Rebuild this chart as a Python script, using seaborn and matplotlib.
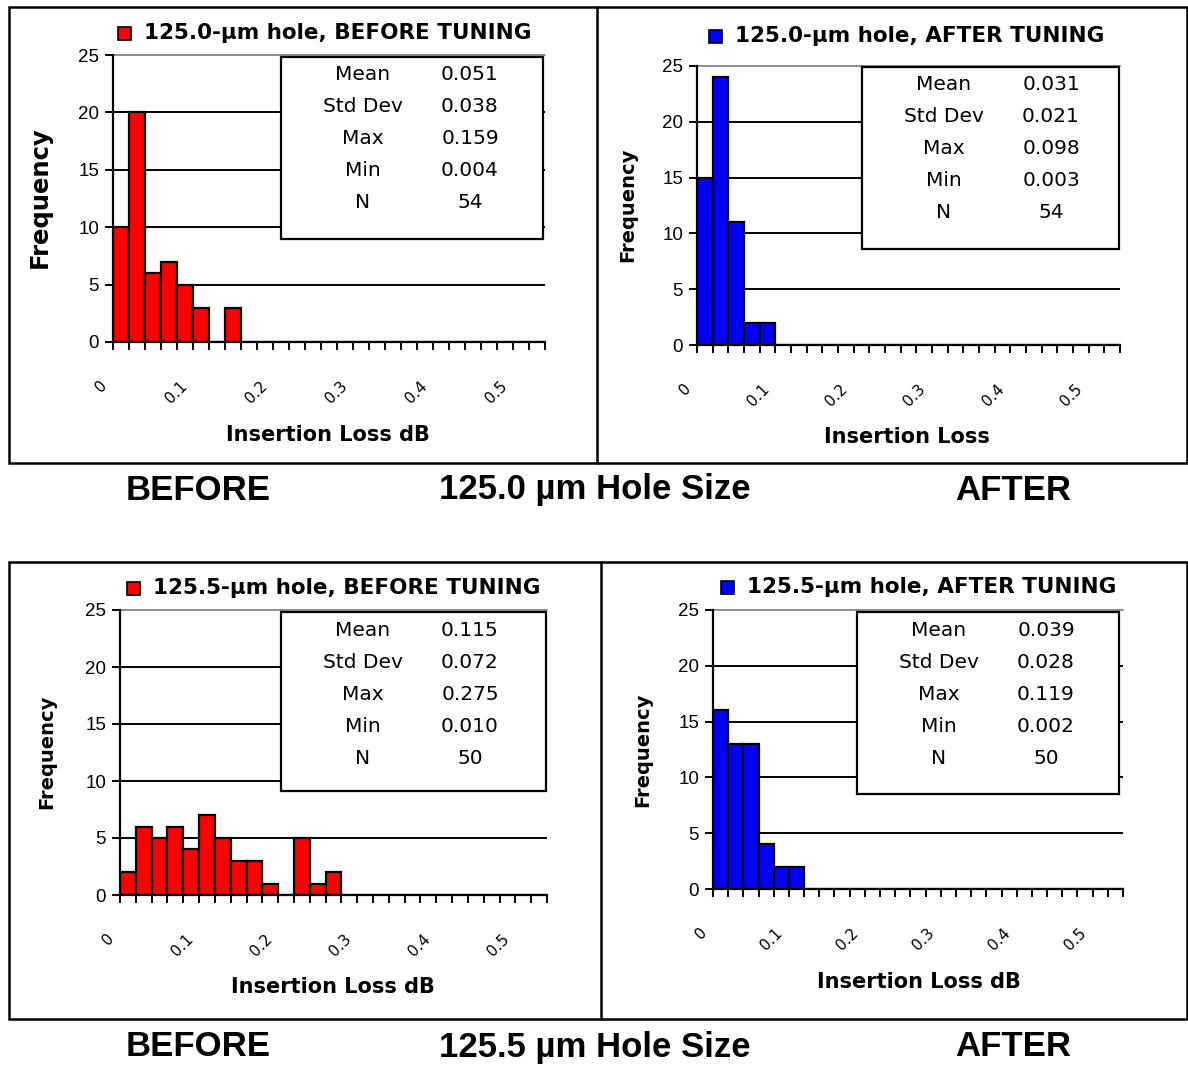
import numpy as np
import pandas as pd
import matplotlib
matplotlib.use("Agg")
import matplotlib.pyplot as plt
from matplotlib.patches import Rectangle
from matplotlib.transforms import ScaledTranslation
import seaborn as sns

# ---- data ----
N_BINS = 27
BIN_STEP = 0.02
TICK_LABELS = ["0", "0.1", "0.2", "0.3", "0.4", "0.5"]

before_1250 = [10, 20, 6, 7, 5, 3, 0, 3]
after_1250 = [15, 24, 11, 2, 2]
before_1255 = [2, 6, 5, 6, 4, 7, 5, 3, 3, 1, 0, 5, 1, 2]
after_1255 = [16, 13, 13, 4, 2, 2]

STAT_NAMES = ["Mean", "Std Dev", "Max", "Min", "N"]
stats_before_1250 = ["0.051", "0.038", "0.159", "0.004", "54"]
stats_after_1250 = ["0.031", "0.021", "0.098", "0.003", "54"]
stats_before_1255 = ["0.115", "0.072", "0.275", "0.010", "50"]
stats_after_1255 = ["0.039", "0.028", "0.119", "0.002", "50"]

titles = ["125.0-\u00b5m hole, BEFORE TUNING", "125.0-\u00b5m hole, AFTER TUNING",
          "125.5-\u00b5m hole, BEFORE TUNING", "125.5-\u00b5m hole, AFTER TUNING"]
xlabels = ["Insertion Loss dB", "Insertion Loss", "Insertion Loss dB", "Insertion Loss dB"]
row_titles = ["125.0 \u00b5m Hole Size", "125.5 \u00b5m Hole Size"]

RED = "#ff0000"
BLUE = "#0000ff"

sns.set_style("white")
plt.rcParams["font.family"] = ["DejaVu Sans"]
plt.rcParams["text.color"] = "black"
plt.rcParams["axes.labelcolor"] = "black"
plt.rcParams["xtick.color"] = "black"
plt.rcParams["ytick.color"] = "black"

W, H = 1188, 1065
fig = plt.figure(figsize=(W / 100, H / 100), dpi=100)


def fx(x):
    return x / W


def fy(y):
    return 1 - y / H


def px_rect(x0, y0, x1, y1):
    return [fx(x0), fy(y1), (x1 - x0) / W, (y1 - y0) / H]


def panel(counts, stats, color, title, xlabel, ax_px, box_px, title_px, ylab_px, ylab_size, xlab_px):
    ax = fig.add_axes(px_rect(*ax_px))
    full = list(counts) + [0] * (N_BINS - len(counts))
    df = pd.DataFrame({"bin": [f"{i * BIN_STEP:.2f}" for i in range(N_BINS)], "count": full})
    sns.barplot(data=df, x="bin", y="count", color=color, width=1, saturation=1,
                edgecolor="black", linewidth=1.6, errorbar=None, ax=ax, zorder=2)
    ax.set_xlim(-0.5, N_BINS - 0.5)
    ax.set_ylim(0, 25)
    for g in [5, 10, 15, 20]:
        ax.axhline(g, color="black", lw=1.4, zorder=0.5)
    ax.axhline(25, color="#8c8c8c", lw=1.4, zorder=0.5, clip_on=False)
    for s in ["top", "right"]:
        ax.spines[s].set_visible(False)
    for s in ["left", "bottom"]:
        ax.spines[s].set_color("black")
        ax.spines[s].set_linewidth(1.6)
    ax.set_yticks([0, 5, 10, 15, 20, 25])
    ax.set_yticklabels(["0", "5", "10", "15", "20", "25"], family="Liberation Sans", fontsize=13.5)
    ax.tick_params(axis="y", direction="out", length=6, width=1.4, color="black", pad=4, left=True)
    ax.set_xticks(range(0, N_BINS, 5))
    ax.set_xticklabels(TICK_LABELS, rotation=45, ha="right", va="top", fontsize=11)
    ax.set_xticks(np.arange(-0.5, N_BINS, 1), minor=True)
    ax.tick_params(axis="x", which="major", length=0, pad=26, bottom=True)
    ax.tick_params(axis="x", which="minor", direction="out", length=6, width=1.4, color="black", bottom=True)
    for lab in ax.get_xticklabels():
        lab.set_transform(lab.get_transform() + ScaledTranslation(-8 / 72, 0, fig.dpi_scale_trans))
    ax.set_xlabel("")
    ax.set_ylabel("")

    # stats box
    bx0, by0, bx1, by1 = box_px
    fig.add_artist(Rectangle((fx(bx0), fy(by1)), (bx1 - bx0) / W, (by1 - by0) / H,
                             transform=fig.transFigure, facecolor="white",
                             edgecolor="black", lw=1.6, zorder=5))
    for i, (name, val) in enumerate(zip(STAT_NAMES, stats)):
        yy = by0 + 18 + 32 * i
        fig.text(fx(bx0 + 82), fy(yy), name, ha="center", va="center", fontsize=14.5, zorder=6)
        fig.text(fx(bx0 + 189), fy(yy), val, ha="center", va="center", fontsize=14.5, zorder=6)

    # legend-style title
    tx, ty = title_px
    fig.add_artist(Rectangle((fx(tx), fy(ty + 7)), 13 / W, 13 / H, transform=fig.transFigure,
                             facecolor=color, edgecolor="black", lw=1.2, zorder=5))
    fig.text(fx(tx + 26), fy(ty), title, ha="left", va="center", fontsize=15.5,
             fontweight="bold")

    fig.text(fx(ylab_px[0]), fy(ylab_px[1]), "Frequency", rotation=90, ha="center",
             va="center", fontsize=ylab_size, fontweight="bold")
    fig.text(fx(xlab_px[0]), fy(xlab_px[1]), xlabel, ha="center", va="center",
             fontsize=15, fontweight="bold")


panel(before_1250, stats_before_1250, RED, titles[0], xlabels[0],
      (113, 55, 545, 342), (281, 57, 543, 239), (118, 33), (40, 197), 17.5, (328, 435))
panel(after_1250, stats_after_1250, BLUE, titles[1], xlabels[1],
      (697, 66, 1120, 345), (862, 67, 1119, 249), (709, 36), (628, 205), 14, (907, 437))
panel(before_1255, stats_before_1255, RED, titles[2], xlabels[2],
      (120, 610, 547, 895), (281, 612, 546, 791), (127, 588), (47, 752), 14, (333, 987))
panel(after_1255, stats_after_1255, BLUE, titles[3], xlabels[3],
      (713, 610, 1123, 889), (857, 612, 1119, 794), (721, 587), (643, 750), 14, (919, 982))

# panel frames
for (x0, y0, x1, y1, xm) in [(9, 7, 1187, 463, 597), (9, 562, 1187, 1019, 601)]:
    fig.add_artist(Rectangle((fx(x0), fy(y1)), (x1 - x0) / W, (y1 - y0) / H,
                             transform=fig.transFigure, fill=False, edgecolor="black",
                             lw=1.8, zorder=1))
    fig.add_artist(plt.Line2D([fx(xm), fx(xm)], [fy(y0), fy(y1)], transform=fig.transFigure,
                              color="black", lw=1.8, zorder=1))

# row captions
big = dict(fontsize=25, fontweight="bold", family=["Liberation Sans Narrow", "Liberation Sans"],
           ha="center", va="center")
for yy, cap in zip([490, 1047], row_titles):
    fig.text(fx(198), fy(yy), "BEFORE", **big)
    fig.text(fx(595), fy(yy), cap, **big)
    fig.text(fx(1013), fy(yy), "AFTER", **big)

fig.savefig("out.png", dpi=100)
